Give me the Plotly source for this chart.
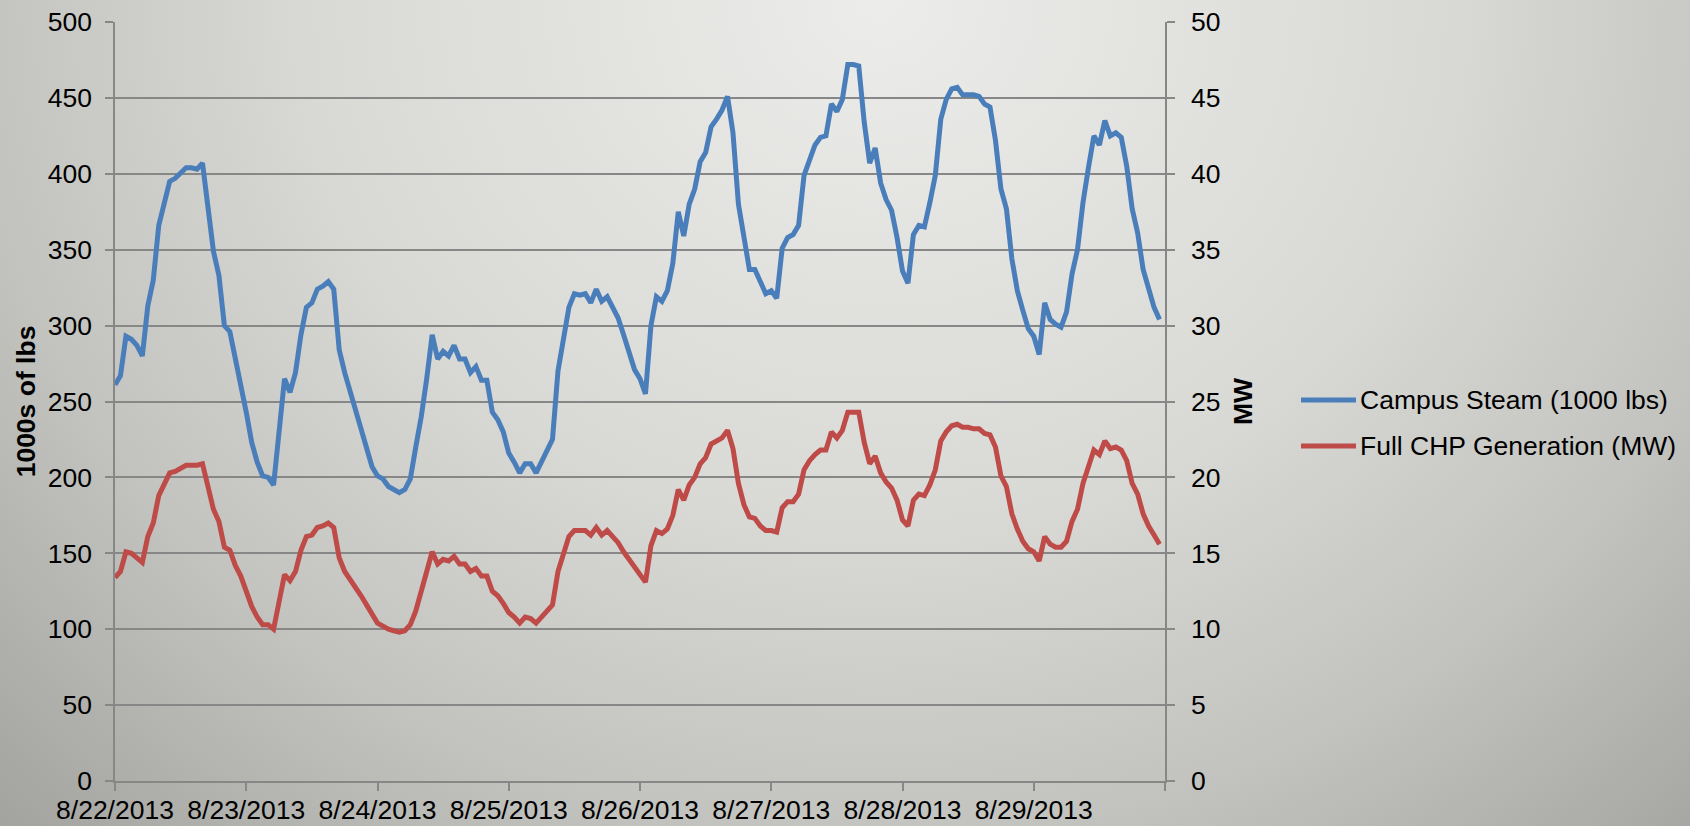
import base64

import pandas as pd
import plotly.graph_objects as go

# Hourly readings, 8/22/2013 00:00 through 8/29/2013 23:00
hours = pd.date_range("2013-08-22 00:00", periods=192, freq="h")

campus_steam_klbs = [
    261, 267, 293, 291, 287, 280, 313, 330, 366, 381, 395, 397, 400, 404, 404, 403,
    407, 378, 349, 333, 300, 296, 278, 264, 243, 223, 210, 201, 200, 195, 230, 265,
    256, 269, 294, 312, 315, 324, 326, 329, 324, 284, 269, 256, 245, 232, 219, 207,
    201, 199, 194, 192, 190, 192, 199, 220, 240, 265, 294, 278, 283, 280, 287, 278,
    278, 269, 273, 264, 264, 243, 238, 230, 216, 210, 203, 209, 209, 203, 210, 218,
    225, 270, 290, 312, 321, 320, 321, 315, 324, 316, 319, 312, 305, 294, 283, 271,
    265, 255, 300, 319, 316, 323, 341, 375, 359, 380, 390, 408, 414, 431, 436, 442,
    451, 427, 380, 356, 337, 337, 329, 321, 323, 318, 351, 358, 360, 366, 399, 410,
    419, 424, 425, 446, 441, 449, 472, 472, 471, 434, 407, 417, 394, 383, 376, 358,
    336, 328, 360, 366, 365, 381, 399, 436, 449, 456, 457, 452, 452, 452, 451, 446,
    444, 422, 390, 377, 344, 323, 310, 298, 293, 281, 315, 304, 301, 299, 309, 334,
    350, 381, 404, 425, 419, 435, 425, 427, 424, 405, 377, 361, 337, 323, 312, 304,
]

chp_generation_mw = [
    13.4, 13.8, 15.1, 15.0, 14.7, 14.4, 16.1, 17.0, 18.8, 19.6, 20.3, 20.4, 20.6, 20.8, 20.8, 20.8,
    20.9, 19.3, 17.9, 17.1, 15.4, 15.2, 14.2, 13.5, 12.5, 11.5, 10.8, 10.3, 10.3, 10.0, 11.8, 13.6,
    13.2, 13.8, 15.2, 16.1, 16.2, 16.7, 16.8, 17.0, 16.7, 14.7, 13.8, 13.3, 12.8, 12.2, 11.6, 11.0,
    10.4, 10.2, 10.0, 9.9, 9.8, 9.9, 10.3, 11.2, 12.5, 13.7, 15.1, 14.3, 14.6, 14.5, 14.8, 14.3,
    14.3, 13.8, 14.0, 13.5, 13.5, 12.5, 12.2, 11.7, 11.1, 10.8, 10.4, 10.8, 10.7, 10.4, 10.8, 11.2,
    11.6, 13.8, 15.0, 16.1, 16.5, 16.5, 16.5, 16.2, 16.7, 16.2, 16.5, 16.1, 15.7, 15.1, 14.6, 14.1,
    13.7, 13.1, 15.5, 16.5, 16.3, 16.6, 17.5, 19.2, 18.5, 19.5, 20.0, 20.9, 21.3, 22.2, 22.4, 22.6,
    23.1, 21.9, 19.6, 18.2, 17.4, 17.3, 16.8, 16.5, 16.5, 16.4, 18.0, 18.4, 18.4, 18.9, 20.5, 21.1,
    21.5, 21.8, 21.8, 23.0, 22.6, 23.1, 24.3, 24.3, 24.3, 22.3, 20.9, 21.4, 20.3, 19.7, 19.3, 18.5,
    17.2, 16.8, 18.5, 18.9, 18.8, 19.5, 20.5, 22.4, 23.0, 23.4, 23.5, 23.3, 23.3, 23.2, 23.2, 22.9,
    22.8, 22.0, 20.1, 19.4, 17.6, 16.6, 15.8, 15.3, 15.1, 14.5, 16.1, 15.6, 15.4, 15.4, 15.8, 17.1,
    17.9, 19.6, 20.7, 21.8, 21.5, 22.4, 21.9, 22.0, 21.8, 21.1, 19.6, 18.9, 17.6, 16.8, 16.2, 15.6,
]

series_names = ["Campus Steam (1000 lbs)", "Full CHP Generation (MW)"]
series_colors = ["#4A7EBB", "#BE4B48"]

day_ticks = list(pd.date_range("2013-08-22", "2013-08-30", freq="D"))
day_labels = ["8/22/2013", "8/23/2013", "8/24/2013", "8/25/2013",
              "8/26/2013", "8/27/2013", "8/28/2013", "8/29/2013", ""]

W, H = 1690, 826
L, R, T, B = 115, 525, 22, 45
FONT = "Liberation Sans, Arial, sans-serif"
FS = 26.5
AXIS_GREY = "#878787"
LINE_W = 5

# Soft grey backdrop, light near the top centre and darker toward the corners
backdrop_svg = f"""<svg xmlns="http://www.w3.org/2000/svg" width="{W}" height="{H}">
<defs><radialGradient id="g" gradientUnits="userSpaceOnUse" cx="0" cy="0" r="1"
 gradientTransform="translate(880,0) scale(1250,1150)">
<stop offset="0" stop-color="#ececea"/>
<stop offset="0.45" stop-color="#d9d9d6"/>
<stop offset="0.72" stop-color="#c3c3bf"/>
<stop offset="1" stop-color="#a3a39f"/>
</radialGradient></defs>
<rect width="{W}" height="{H}" fill="url(#g)"/></svg>"""
backdrop_uri = "data:image/svg+xml;base64," + base64.b64encode(backdrop_svg.encode()).decode()

pw, ph = W - L - R, H - T - B


def px_x(x):
    return (x - L) / pw


def px_y(y):
    return 1 - (y - T) / ph


fig = go.Figure()
fig.add_trace(go.Scatter(
    x=hours, y=campus_steam_klbs, name=series_names[0],
    mode="lines", line=dict(color=series_colors[0], width=LINE_W),
))
fig.add_trace(go.Scatter(
    x=hours, y=chp_generation_mw, name=series_names[1],
    mode="lines", line=dict(color=series_colors[1], width=LINE_W),
    yaxis="y2",
))

# Key to the right of the plot: a coloured stroke followed by the series name
shapes, annotations = [], []
for i, (name, color) in enumerate(zip(series_names, series_colors)):
    row_y = 400 + 46 * i
    shapes.append(dict(
        type="line", xref="paper", yref="paper",
        x0=px_x(1301), x1=px_x(1356), y0=px_y(row_y), y1=px_y(row_y),
        line=dict(color=color, width=LINE_W),
    ))
    annotations.append(dict(
        xref="paper", yref="paper", x=px_x(1358), y=px_y(row_y),
        xanchor="left", yanchor="middle", text=name, showarrow=False,
        font=dict(family=FONT, size=FS, color="#000000"),
    ))

fig.update_layout(
    width=W, height=H,
    margin=dict(l=L, r=R, t=T, b=B, pad=0, autoexpand=False),
    paper_bgcolor="#c4c4c0",
    plot_bgcolor="rgba(0,0,0,0)",
    font=dict(family=FONT, size=FS, color="#000000"),
    showlegend=False,
    shapes=shapes,
    annotations=annotations,
    images=[dict(
        source=backdrop_uri, xref="paper", yref="paper",
        x=-L / pw, y=1 + T / ph, sizex=W / pw, sizey=H / ph,
        xanchor="left", yanchor="top", sizing="stretch", layer="below",
    )],
    xaxis=dict(
        type="date",
        range=[day_ticks[0], day_ticks[-1]],
        tickmode="array", tickvals=day_ticks, ticktext=day_labels,
        showgrid=False, zeroline=False,
        showline=True, linecolor=AXIS_GREY, linewidth=1.5,
        ticks="outside", ticklen=8, tickcolor=AXIS_GREY, tickwidth=1.5,
        ticklabelstandoff=-4,
        tickfont=dict(size=FS),
    ),
    yaxis=dict(
        range=[0, 500], dtick=50, tick0=0,
        showgrid=True, gridcolor=AXIS_GREY, gridwidth=1.5,
        zeroline=False,
        showline=True, linecolor=AXIS_GREY, linewidth=1.5,
        ticks="outside", ticklen=8, tickcolor=AXIS_GREY, tickwidth=1.5,
        ticklabelstandoff=8,
        tickfont=dict(size=FS),
        title=dict(text="1000s of lbs", font=dict(size=FS, weight="bold"), standoff=4),
    ),
    yaxis2=dict(
        range=[0, 50], dtick=5, tick0=0,
        overlaying="y", side="right",
        showgrid=False, zeroline=False,
        showline=True, linecolor=AXIS_GREY, linewidth=1.5,
        ticks="outside", ticklen=8, tickcolor=AXIS_GREY, tickwidth=1.5,
        ticklabelstandoff=11,
        tickfont=dict(size=FS),
        title=dict(text="MW", font=dict(size=FS, weight="bold"), standoff=14),
    ),
)

fig.write_html("out.html")
